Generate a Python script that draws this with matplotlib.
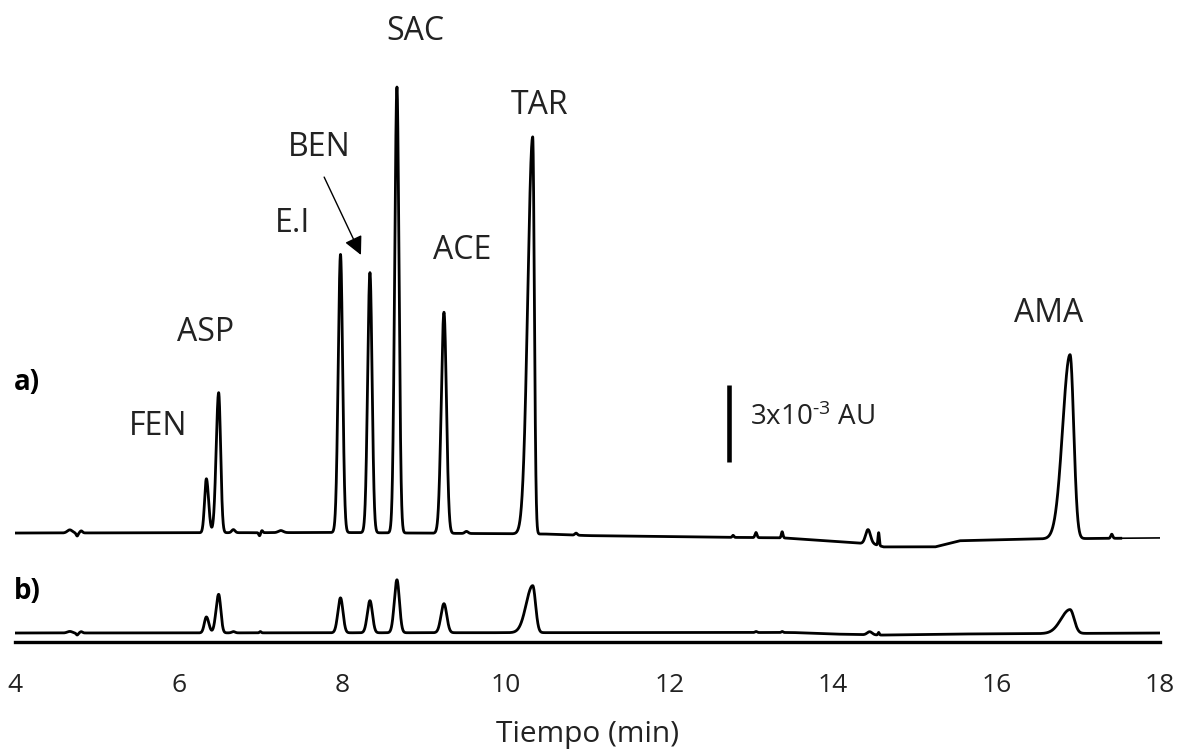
import numpy as np
import matplotlib
matplotlib.use("Agg")
import matplotlib.pyplot as plt

# ---------------- data ----------------
compounds = ["FEN", "ASP", "E.I", "BEN", "SAC", "ACE", "TAR", "AMA"]
retention_min = [6.34, 6.49, 7.98, 8.34, 8.67, 9.245, 10.33, 16.90]
height_a_mAU = [2.10, 5.45, 10.82, 10.12, 17.35, 8.60, 15.45, 7.16]
height_b_mAU = [0.62, 1.50, 1.36, 1.25, 2.06, 1.13, 1.83, 0.93]
sigma_front_a = [0.022, 0.030, 0.028, 0.028, 0.027, 0.033, 0.060, 0.090]
sigma_tail_a = [0.027, 0.024, 0.026, 0.026, 0.025, 0.030, 0.020, 0.045]
sigma_front_b = [0.025, 0.032, 0.032, 0.032, 0.032, 0.036, 0.080, 0.110]
sigma_tail_b = [0.030, 0.026, 0.030, 0.030, 0.030, 0.034, 0.035, 0.050]

# small baseline features (time, height in mAU, width in min)
minor_t_a = [4.67, 4.76, 4.81, 6.67, 6.99, 7.02, 7.25, 9.52, 10.86, 12.78, 13.06, 13.38, 14.43, 14.56, 17.41]
minor_h_a = [0.12, -0.12, 0.08, 0.12, -0.12, 0.08, 0.08, 0.08, 0.08, 0.08, 0.20, 0.24, 0.55, 0.50, 0.16]
minor_s_a = [0.03, 0.012, 0.015, 0.02, 0.01, 0.01, 0.03, 0.02, 0.015, 0.01, 0.012, 0.01, 0.03, 0.008, 0.012]
minor_t_b = [4.67, 4.76, 4.81, 6.67, 7.00, 13.06, 13.38, 14.45, 14.56]
minor_h_b = [0.06, -0.08, 0.05, 0.05, 0.05, 0.04, 0.04, 0.12, 0.10]
minor_s_b = [0.03, 0.012, 0.015, 0.02, 0.01, 0.012, 0.01, 0.03, 0.008]

# baseline drift knots (min, mAU)
drift_t_a = [4.0, 8.0, 10.5, 11.0, 12.5, 13.4, 14.35, 14.5, 14.62, 15.25, 15.55, 16.5, 18.0]
drift_a = [0.0, 0.02, -0.04, -0.10, -0.16, -0.19, -0.40, -0.43, -0.54, -0.54, -0.30, -0.23, -0.19]
drift_t_b = [4.0, 13.5, 14.0, 14.6, 15.5, 18.0]
drift_b = [0.0, 0.02, -0.04, -0.08, -0.04, 0.0]

scale_bar_mAU = 3.0
x_ticks = [4, 6, 8, 10, 12, 14, 16, 18]

# ---------------- build traces ----------------
t = np.linspace(4.0, 18.0, 14001)


def peak(t0, h, s_front, s_tail):
    s = np.where(t < t0, s_front, s_tail)
    return h * np.exp(-0.5 * ((t - t0) / s) ** 2)


def trace(heights, s_front, s_tail, mt, mh, ms, dt, dv):
    y = np.interp(t, dt, dv)
    for t0, h, sf, st in zip(retention_min, heights, s_front, s_tail):
        y = y + peak(t0, h, sf, st)
    for t0, h, s in zip(mt, mh, ms):
        y = y + peak(t0, h, s, s)
    return y


ya = trace(height_a_mAU, sigma_front_a, sigma_tail_a, minor_t_a, minor_h_a, minor_s_a, drift_t_a, drift_a)
yb = trace(height_b_mAU, sigma_front_b, sigma_tail_b, minor_t_b, minor_h_b, minor_s_b, drift_t_b, drift_b)

offset_a = 4.24
offset_b = 0.35

# ---------------- figure ----------------
plt.rcParams['font.family'] = ['Open Sans', 'DejaVu Sans']
plt.rcParams['mathtext.fontset'] = 'custom'
plt.rcParams['mathtext.rm'] = 'Open Sans'
plt.rcParams['mathtext.default'] = 'regular'

W, H = 1177, 750
fig = plt.figure(figsize=(W / 100, H / 100), dpi=100)
ax = fig.add_axes([15 / W, 1 - 642 / H, (1160 - 15) / W, 642 / H])
ax.set_xlim(4, 18)
ax.set_ylim(0, 642 / 25.7)

lw = 2.0
mask_thick = t <= 17.52
ax.plot(t[mask_thick], ya[mask_thick] + offset_a, color='black', lw=lw, solid_joinstyle='round')
ax.plot(t[t >= 17.48], ya[t >= 17.48] + offset_a, color='black', lw=1.2)
ax.plot(t, yb + offset_b, color='black', lw=lw, solid_joinstyle='round')

# peak labels
label_pos = {
    "FEN": (5.75, 8.40), "ASP": (6.33, 12.06), "E.I": (7.39, 16.30),
    "BEN": (7.72, 19.26), "SAC": (8.89, 23.74), "ACE": (9.47, 15.25),
    "TAR": (10.41, 20.89), "AMA": (16.64, 12.80),
}
for name in compounds:
    x, y = label_pos[name]
    ax.text(x, y, name, fontsize=23, ha='center', va='center', color='#222222')

# arrow for BEN
ax.annotate("", xy=(8.23, 15.06), xytext=(7.78, 18.09),
            arrowprops=dict(arrowstyle='-|>', color='black', lw=1.0,
                            mutation_scale=28, shrinkA=0, shrinkB=0))

# trace labels
ax.text(3.99, 10.08, "a)", fontsize=20, fontweight='bold', ha='left', va='center')
ax.text(3.99, 1.95, "b)", fontsize=20, fontweight='bold', ha='left', va='center')

# scale bar
ax.plot([12.73, 12.73], [7.0, 7.0 + scale_bar_mAU], color='black', lw=3.3, solid_capstyle='butt')
ax.text(12.99, 8.72, r"3x10$^{\text{-3}}$ AU", fontsize=20, ha='left', va='center', color='#222222')

# axes styling
for side in ['left', 'right', 'top']:
    ax.spines[side].set_visible(False)
ax.spines['bottom'].set_linewidth(2.4)
ax.spines['bottom'].set_color('black')
ax.set_yticks([])
ax.set_xticks(x_ticks)
ax.set_xticklabels([str(v) for v in x_ticks])
ax.tick_params(axis='x', length=0, pad=22, labelsize=19, labelcolor='#222222')
ax.set_xlabel("Tiempo (min)", fontsize=21.5, labelpad=16, color='#222222')

fig.savefig("out.png", dpi=100)
